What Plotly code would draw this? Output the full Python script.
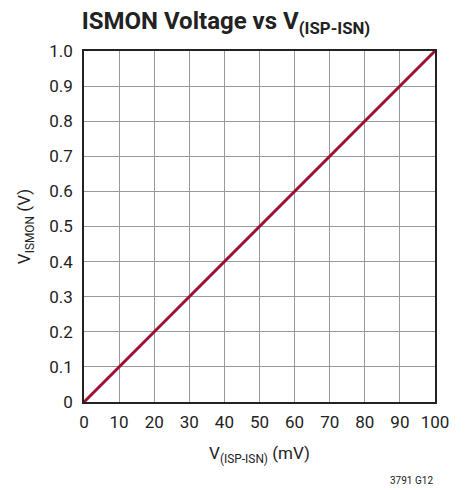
import plotly.graph_objects as go

x_mv = [0, 10, 20, 30, 40, 50, 60, 70, 80, 90, 100]
y_v = [0, 0.1, 0.2, 0.3, 0.4, 0.5, 0.6, 0.7, 0.8, 0.9, 1.0]
x_ticks = [0, 10, 20, 30, 40, 50, 60, 70, 80, 90, 100]
y_ticks = [0, 0.1, 0.2, 0.3, 0.4, 0.5, 0.6, 0.7, 0.8, 0.9, 1.0]
y_ticktext = ["0", "0.1", "0.2", "0.3", "0.4", "0.5", "0.6", "0.7", "0.8", "0.9", "1.0"]

FONT = "Liberation Sans Narrow, Roboto, sans-serif"
W, H = 457, 482

fig = go.Figure()
fig.add_trace(go.Scatter(x=x_mv, y=y_v, mode="lines",
                         line=dict(color="#9e0f33", width=3), showlegend=False))

fig.update_layout(
    width=W, height=H,
    margin=dict(l=76, r=30, t=43, b=88),
    paper_bgcolor="white", plot_bgcolor="white",
    font=dict(family=FONT, size=17, color="#222"),
    title=dict(text="<b>ISMON Voltage vs V<sub>(ISP-ISN)</sub></b>",
               x=218 / W, xref="container", xanchor="center",
               y=1 - 13 / H, yref="container", yanchor="middle",
               font=dict(family=FONT, size=24, color="#222")),
    xaxis=dict(range=[0, 100], tickvals=x_ticks, showgrid=True,
               gridcolor="#999", gridwidth=1, showline=True, linecolor="#222",
               linewidth=1.5, mirror=True, ticks="", zeroline=False,
               ticklabelstandoff=4, tickfont=dict(size=17),
               title=dict(text="V<sub>(ISP-ISN)</sub> (mV)", standoff=16,
                          font=dict(size=17))),
    yaxis=dict(range=[0, 1], tickvals=y_ticks, ticktext=y_ticktext, showgrid=True,
               gridcolor="#999", gridwidth=1, showline=True, linecolor="#222",
               linewidth=1.5, mirror=True, ticks="", zeroline=False,
               ticklabelstandoff=6, tickfont=dict(size=17),
               title=dict(text="V<sub>ISMON</sub> (V)", standoff=14,
                          font=dict(size=17))),
    annotations=[dict(text="3791 G12", xref="paper", yref="paper", x=1.0, y=-0.225,
                      xanchor="right", yanchor="middle", showarrow=False,
                      font=dict(family=FONT, size=10, color="#222"))],
)

fig.write_html("out.html")
